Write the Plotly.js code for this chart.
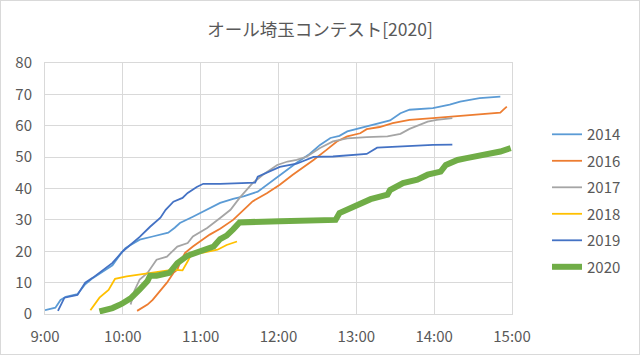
<!DOCTYPE html>
<html>
<head>
<meta charset="utf-8">
<script src="https://cdn.plot.ly/plotly-3.0.1.min.js"></script>
<style>
html,body{margin:0;padding:0;background:#fff;}
#wrap{position:relative;width:640px;height:355px;}
#chart{width:640px;height:355px;}
#frame{position:absolute;left:0;top:0;width:640px;height:355px;box-sizing:border-box;border:1px solid #d9d9d9;pointer-events:none;}
</style>
</head>
<body>
<div id="wrap"><div id="chart"></div><div id="frame"></div></div>
<script>
// ---- data (time of day, cumulative count) ----
const t2014 = ["09:00","09:08","09:12","09:16","09:25","09:31","09:37","09:43","09:52","09:58","10:02","10:06","10:13","10:23","10:35","10:40","10:44","10:54","11:05","11:15","11:25","11:33","11:44","11:53","12:03","12:14","12:24","12:32","12:40","12:47","12:53","13:03","13:18","13:26","13:34","13:41","13:59","14:12","14:20","14:35","14:51"];
const v2014 = [1.2,2,4.5,5.5,6.3,9.5,11.5,13.2,15.5,19,21,22,23.7,24.7,25.9,27.5,29,31,33.2,35.4,36.7,37.5,39,41.8,45,48.2,51,53.9,56.1,56.8,58.2,59.2,60.8,61.7,64,65.1,65.6,66.7,67.7,68.8,69.3];

const t2016 = ["10:11","10:19","10:23","10:29","10:34","10:39","10:42","10:44","10:48","10:54","10:59","11:07","11:15","11:25","11:36","11:40","11:51","12:01","12:11","12:22","12:27","12:37","12:45","12:53","13:03","13:08","13:18","13:28","13:41","13:59","14:12","14:25","14:38","14:51","14:53","14:56"];
const v2016 = [1,3,4.5,7.7,10,13.1,14.1,16.3,19.5,21.5,23,25.3,27.2,30,34.3,35.9,38.5,41.2,44.4,47.5,49.1,52.3,55,56.6,57.6,58.9,59.6,60.8,61.9,62.4,62.9,63.2,63.7,64.2,65,66.1];

const t2017 = ["10:06","10:09","10:13","10:19","10:26","10:34","10:42","10:50","10:54","11:05","11:15","11:23","11:30","11:33","11:40","11:48","11:59","12:07","12:14","12:22","12:32","12:42","12:53","13:08","13:24","13:34","13:41","13:55","14:02","14:14"];
const v2017 = [3,7.5,11,13.1,17.3,18.3,21.5,22.6,24.7,27.4,30.6,33.2,37,38.5,41.7,44.4,47.5,48.6,49.1,50.2,52.9,55,56,56.4,56.6,57.4,59,61.3,61.9,62.4];

const t2018 = ["09:35","09:39","09:42","09:49","09:54","10:03","10:13","10:23","10:39","10:46","10:50","10:53","11:02","11:13","11:20","11:28"];
const v2018 = [1.2,3.5,5.2,7.7,11.2,12,12.5,13.2,14.1,13.9,16.8,19.2,19.6,20.5,22,23.1];

const t2019 = ["09:10","09:15","09:25","09:31","09:37","09:42","09:52","10:00","10:13","10:21","10:29","10:33","10:39","10:46","10:50","10:57","11:02","11:15","11:42","11:44","11:51","12:01","12:14","12:27","12:42","13:08","13:16","13:34","13:59","14:14"];
const v2019 = [1,5.2,6.1,10,11.6,13.1,16.3,20,24.6,27.8,30.7,33.2,35.8,37,38.6,40.5,41.5,41.5,41.9,43.8,45,46.9,47.9,50.1,50.2,51,53,53.4,53.9,54];

const t2020 = ["09:42","09:52","09:59","10:06","10:13","10:19","10:21","10:26","10:36","10:42","10:50","11:00","11:10","11:15","11:20","11:25","11:30","12:01","12:27","12:44","12:47","12:58","13:03","13:11","13:24","13:26","13:36","13:47","13:55","14:05","14:09","14:18","14:25","14:38","14:51","14:59"];
const v2020 = [0.8,1.9,3.2,5,7.8,10.5,12.2,12.2,13.1,16.2,18.6,20.3,21.5,23.9,25,27,29.2,29.6,29.8,30,32.2,34.3,35.4,36.6,38,39.5,41.7,42.8,44.4,45.4,47.5,49.1,49.7,50.7,51.8,52.9];

const seriesNames = ["2014","2016","2017","2018","2019","2020"];
const seriesTimes = [t2014,t2016,t2017,t2018,t2019,t2020];
const seriesVals  = [v2014,v2016,v2017,v2018,v2019,v2020];
const colors = ["#5B9BD5","#ED7D31","#A5A5A5","#FFC000","#4472C4","#70AD47"];
const widths = [1.8,1.8,1.8,1.8,1.8,6];
const day = "2020-11-03 ";

const font = "'Noto Sans CJK JP', 'Noto Sans', sans-serif";
const traces = seriesNames.map((n,i)=>({
  type:'scatter', mode:'lines', name:n, legendgroup:'g'+i,
  x: seriesTimes[i].map(s=>day+s),
  y: seriesVals[i],
  line:{color:colors[i], width:widths[i]}
}));

const layout = {
  width:640, height:355,
  margin:{l:45, r:128, t:63, b:41},
  paper_bgcolor:'#fff', plot_bgcolor:'#fff',
  font:{family:font, color:'#595959', size:15},
  title:{text:'オール埼玉コンテスト[2020]', x:0.5, xanchor:'center', y:0.915, yanchor:'middle', font:{family:font, size:17.5, color:'#595959'}},
  xaxis:{type:'date', range:[day+'09:00', day+'15:00'], dtick:3600000, tick0:day+'09:00', tickformat:'%-H:%M',
         showgrid:true, gridcolor:'#d9d9d9', gridwidth:1, showline:true, linecolor:'#d9d9d9', mirror:true,
         ticks:'', ticklabelstandoff:9, tickfont:{size:15, color:'#595959'}, zeroline:false, fixedrange:true},
  yaxis:{range:[0,80], dtick:10, showgrid:true, gridcolor:'#d9d9d9', gridwidth:1, showline:true, linecolor:'#d9d9d9', mirror:true,
         ticks:'', ticklabelstandoff:9, tickfont:{size:15, color:'#595959'}, zeroline:false, fixedrange:true},
  legend:{x:1.075, xanchor:'left', y:0.452, yanchor:'middle', font:{size:15, color:'#595959'}, bgcolor:'rgba(0,0,0,0)',
          itemwidth:30, traceorder:'grouped', tracegroupgap:4},
  showlegend:true
};
Plotly.newPlot('chart', traces, layout, {displayModeBar:false, staticPlot:true});
</script>
</body>
</html>
